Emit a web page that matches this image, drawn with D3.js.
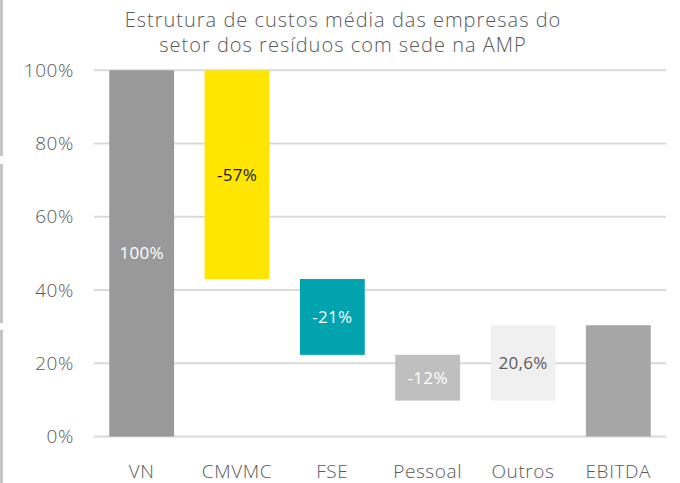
<!DOCTYPE html>
<html>
<head>
    <meta charset="utf-8">
    <script src="https://cdn.jsdelivr.net/npm/d3@7"></script>
    <style>
        body { margin: 0; background: #fff; }
        svg { display: block; font-family: "Open Sans", sans-serif; font-weight: 300; letter-spacing: 0.6px; }
    </style>
</head>
<body>
    <svg width="680" height="483"></svg>
    <script>
        // waterfall: each bar spans low..high (percent of VN)
        const categories = ["VN", "CMVMC", "FSE", "Pessoal", "Outros", "EBITDA"];
        const lows  = [0, 43, 22.3, 9.8, 9.8, 0];
        const highs = [100, 100, 43, 22.3, 30.4, 30.4];
        const labels = ["100%", "-57%", "-21%", "-12%", "20,6%", ""];
        const colors = ["#999999", "#ffe600", "#00a3ae", "#bfbfbf", "#f0f0f0", "#a6a6a6"];
        const labelColors = ["#ffffff", "#1a1a1a", "#ffffff", "#ffffff", "#595959", "#ffffff"];
        const ticks = [0, 20, 40, 60, 80, 100];

        const svg = d3.select("svg");

        // thin grey strips on the left edge of the picture
        const strips = [[0, 156], [164, 323], [330, 483]];
        svg.selectAll("rect.strip")
            .data(strips)
            .enter()
            .append("rect")
                .attr("class", "strip")
                .attr("x", 0)
                .attr("y", d => d[0])
                .attr("width", 3)
                .attr("height", d => d[1] - d[0])
                .style("fill", "#c4c4c4");

        const x = d3.scaleBand()
            .domain(categories)
            .range([94, 666])
            .paddingInner(0.32)
            .paddingOuter(0.16);

        const y = d3.scaleLinear()
            .domain([0, 100])
            .range([436.5, 70.3]);

        // gridlines
        svg.selectAll("line.grid")
            .data(ticks)
            .enter()
            .append("line")
                .attr("x1", 94)
                .attr("x2", 666)
                .attr("y1", d => y(d))
                .attr("y2", d => y(d))
                .style("stroke", "#d9d9d9")
                .style("stroke-width", 2);

        // y tick labels
        svg.selectAll("text.ytick")
            .data(ticks)
            .enter()
            .append("text")
                .attr("x", 74)
                .attr("y", d => y(d))
                .attr("dy", "0.35em")
                .attr("text-anchor", "end")
                .style("font-size", "19px")
                .style("fill", "#595959")
                .text(d => d + "%");

        // bars
        svg.selectAll("rect.bar")
            .data(categories)
            .enter()
            .append("rect")
                .attr("class", "bar")
                .attr("x", d => x(d))
                .attr("y", (d, i) => y(highs[i]))
                .attr("width", x.bandwidth())
                .attr("height", (d, i) => y(lows[i]) - y(highs[i]))
                .style("fill", (d, i) => colors[i]);

        // value labels
        svg.selectAll("text.val")
            .data(categories)
            .enter()
            .append("text")
                .attr("x", d => x(d) + x.bandwidth() / 2)
                .attr("y", (d, i) => y((lows[i] + highs[i]) / 2))
                .attr("dy", "0.35em")
                .attr("text-anchor", "middle")
                .style("font-size", "17px")
                .style("font-weight", 400)
                .style("letter-spacing", "0.3px")
                .style("fill", (d, i) => labelColors[i])
                .text((d, i) => labels[i]);

        // category labels
        svg.selectAll("text.cat")
            .data(categories)
            .enter()
            .append("text")
                .attr("x", d => x(d) + x.bandwidth() / 2)
                .attr("y", 471)
                .attr("dy", "0.35em")
                .attr("text-anchor", "middle")
                .style("font-size", "19px")
                .style("fill", "#595959")
                .text(d => d);

        // title
        const title = ["Estrutura de custos média das empresas do", "setor dos resíduos com sede na AMP"];
        svg.selectAll("text.title")
            .data(title)
            .enter()
            .append("text")
                .attr("x", 343)
                .attr("y", (d, i) => 20 + i * 25)
                .attr("dy", "0.35em")
                .attr("text-anchor", "middle")
                .style("font-size", "20px")
                .style("letter-spacing", "1px")
                .style("fill", "#595959")
                .text(d => d);
    </script>
</body>
</html>
